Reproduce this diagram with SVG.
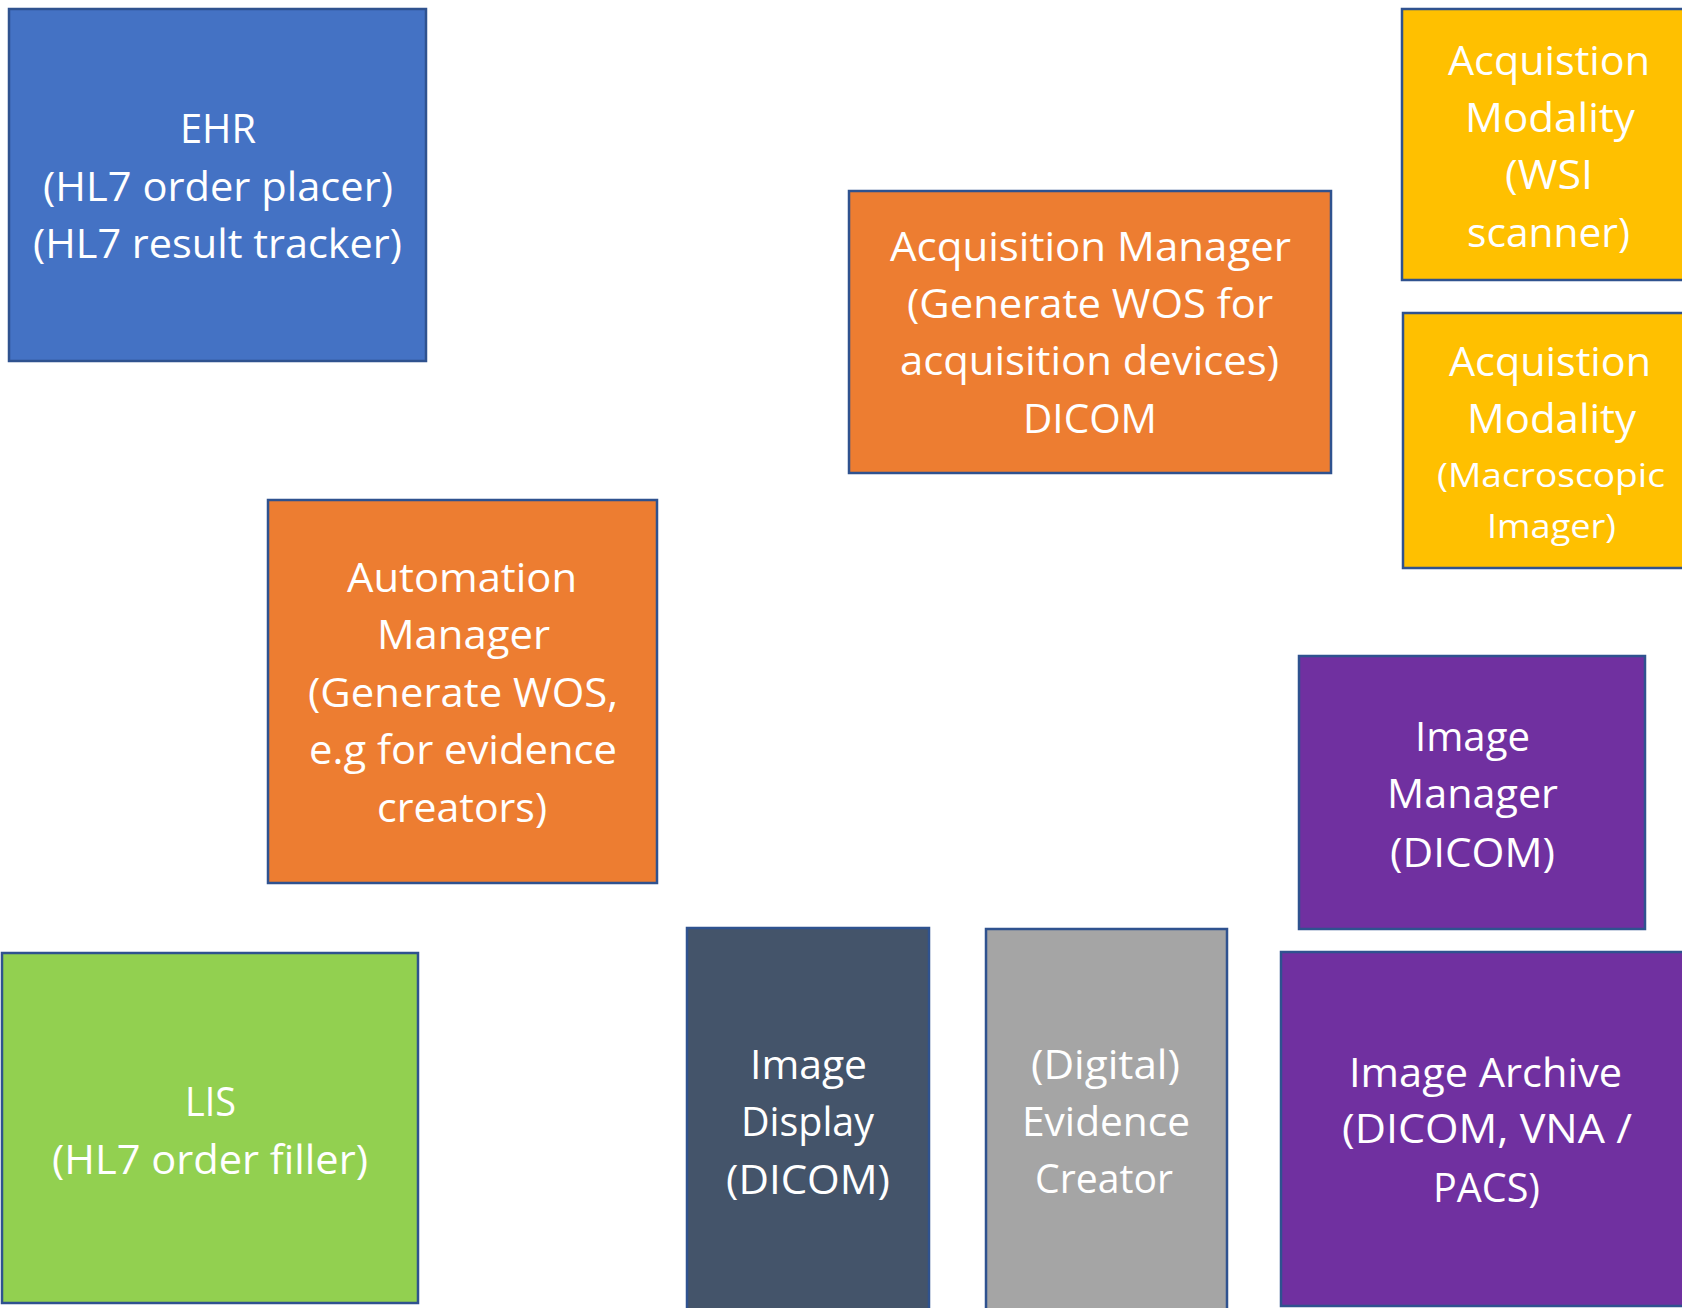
<svg xmlns="http://www.w3.org/2000/svg" width="1682" height="1308" viewBox="0 0 1682 1308">
  <style>
    .box { stroke: #2F528F; stroke-width: 2.5; }
    .lbl { font-family: "Open Sans", "Noto Sans", "Liberation Sans", sans-serif; font-size: 41px; fill: #FFFFFF; }
    .sm { font-size: 32px; }
    .blue { fill: #4472C4; }
    .orange { fill: #ED7D31; }
    .gold { fill: #FFC000; }
    .purple { fill: #7030A0; }
    .green { fill: #92D050; }
    .slate { fill: #44546A; }
    .grey { fill: #A5A5A5; }
  </style>
  <rect x="0" y="0" width="1682" height="1308" fill="#FFFFFF"/>

  <g id="connectors"></g>

  <g id="ehr">
    <rect class="box blue" x="9" y="9" width="417" height="352"/>
    <text class="lbl" x="180" y="143" textLength="76" lengthAdjust="spacingAndGlyphs">EHR</text>
    <text class="lbl" x="43" y="201" textLength="350" lengthAdjust="spacingAndGlyphs">(HL7 order placer)</text>
    <text class="lbl" x="33" y="258" textLength="369" lengthAdjust="spacingAndGlyphs">(HL7 result tracker)</text>
  </g>

  <g id="acquisition-manager">
    <rect class="box orange" x="849" y="191" width="482" height="282"/>
    <text class="lbl" x="890" y="261" textLength="401" lengthAdjust="spacingAndGlyphs">Acquisition Manager</text>
    <text class="lbl" x="907" y="318" textLength="366" lengthAdjust="spacingAndGlyphs">(Generate WOS for</text>
    <text class="lbl" x="900" y="375" textLength="379" lengthAdjust="spacingAndGlyphs">acquisition devices)</text>
    <text class="lbl" x="1023" y="433" textLength="134" lengthAdjust="spacingAndGlyphs">DICOM</text>
  </g>

  <g id="modality-wsi">
    <rect class="box gold" x="1402" y="9" width="300" height="271"/>
    <text class="lbl" x="1448" y="75" textLength="202" lengthAdjust="spacingAndGlyphs">Acquistion</text>
    <text class="lbl" x="1465" y="132" textLength="170" lengthAdjust="spacingAndGlyphs">Modality</text>
    <text class="lbl" x="1505" y="189" textLength="88" lengthAdjust="spacingAndGlyphs">(WSI</text>
    <text class="lbl" x="1467" y="247" textLength="163" lengthAdjust="spacingAndGlyphs">scanner)</text>
  </g>

  <g id="modality-macro">
    <rect class="box gold" x="1403" y="313" width="300" height="255"/>
    <text class="lbl" x="1449" y="376" textLength="202" lengthAdjust="spacingAndGlyphs">Acquistion</text>
    <text class="lbl" x="1467" y="433" textLength="169" lengthAdjust="spacingAndGlyphs">Modality</text>
    <text class="lbl sm" x="1437" y="487" textLength="228" lengthAdjust="spacingAndGlyphs">(Macroscopic</text>
    <text class="lbl sm" x="1487" y="538" textLength="129" lengthAdjust="spacingAndGlyphs">Imager)</text>
  </g>

  <g id="automation-manager">
    <rect class="box orange" x="268" y="500" width="389" height="383"/>
    <text class="lbl" x="347" y="592" textLength="230" lengthAdjust="spacingAndGlyphs">Automation</text>
    <text class="lbl" x="377" y="649" textLength="173" lengthAdjust="spacingAndGlyphs">Manager</text>
    <text class="lbl" x="308" y="707" textLength="310" lengthAdjust="spacingAndGlyphs">(Generate WOS,</text>
    <text class="lbl" x="309" y="764" textLength="308" lengthAdjust="spacingAndGlyphs">e.g for evidence</text>
    <text class="lbl" x="377" y="822" textLength="170" lengthAdjust="spacingAndGlyphs">creators)</text>
  </g>

  <g id="image-manager">
    <rect class="box purple" x="1299" y="656" width="346" height="273"/>
    <text class="lbl" x="1415" y="751" textLength="115" lengthAdjust="spacingAndGlyphs">Image</text>
    <text class="lbl" x="1387" y="808" textLength="171" lengthAdjust="spacingAndGlyphs">Manager</text>
    <text class="lbl" x="1390" y="867" textLength="165" lengthAdjust="spacingAndGlyphs">(DICOM)</text>
  </g>

  <g id="lis">
    <rect class="box green" x="2" y="953" width="416" height="350"/>
    <text class="lbl" x="185" y="1116" textLength="51" lengthAdjust="spacingAndGlyphs">LIS</text>
    <text class="lbl" x="52" y="1174" textLength="316" lengthAdjust="spacingAndGlyphs">(HL7 order filler)</text>
  </g>

  <g id="image-display">
    <rect class="box slate" x="687" y="928" width="242" height="400"/>
    <text class="lbl" x="750" y="1079" textLength="117" lengthAdjust="spacingAndGlyphs">Image</text>
    <text class="lbl" x="741" y="1136" textLength="133" lengthAdjust="spacingAndGlyphs">Display</text>
    <text class="lbl" x="726" y="1194" textLength="164" lengthAdjust="spacingAndGlyphs">(DICOM)</text>
  </g>

  <g id="evidence-creator">
    <rect class="box grey" x="986" y="929" width="241" height="400"/>
    <text class="lbl" x="1031" y="1079" textLength="149" lengthAdjust="spacingAndGlyphs">(Digital)</text>
    <text class="lbl" x="1022" y="1136" textLength="168" lengthAdjust="spacingAndGlyphs">Evidence</text>
    <text class="lbl" x="1035" y="1193" textLength="138" lengthAdjust="spacingAndGlyphs">Creator</text>
  </g>

  <g id="image-archive">
    <rect class="box purple" x="1281" y="952" width="420" height="354"/>
    <text class="lbl" x="1349" y="1087" textLength="273" lengthAdjust="spacingAndGlyphs">Image Archive</text>
    <text class="lbl" x="1342" y="1143" textLength="290" lengthAdjust="spacingAndGlyphs">(DICOM, VNA /</text>
    <text class="lbl" x="1433" y="1202" textLength="107" lengthAdjust="spacingAndGlyphs">PACS)</text>
  </g>
</svg>
